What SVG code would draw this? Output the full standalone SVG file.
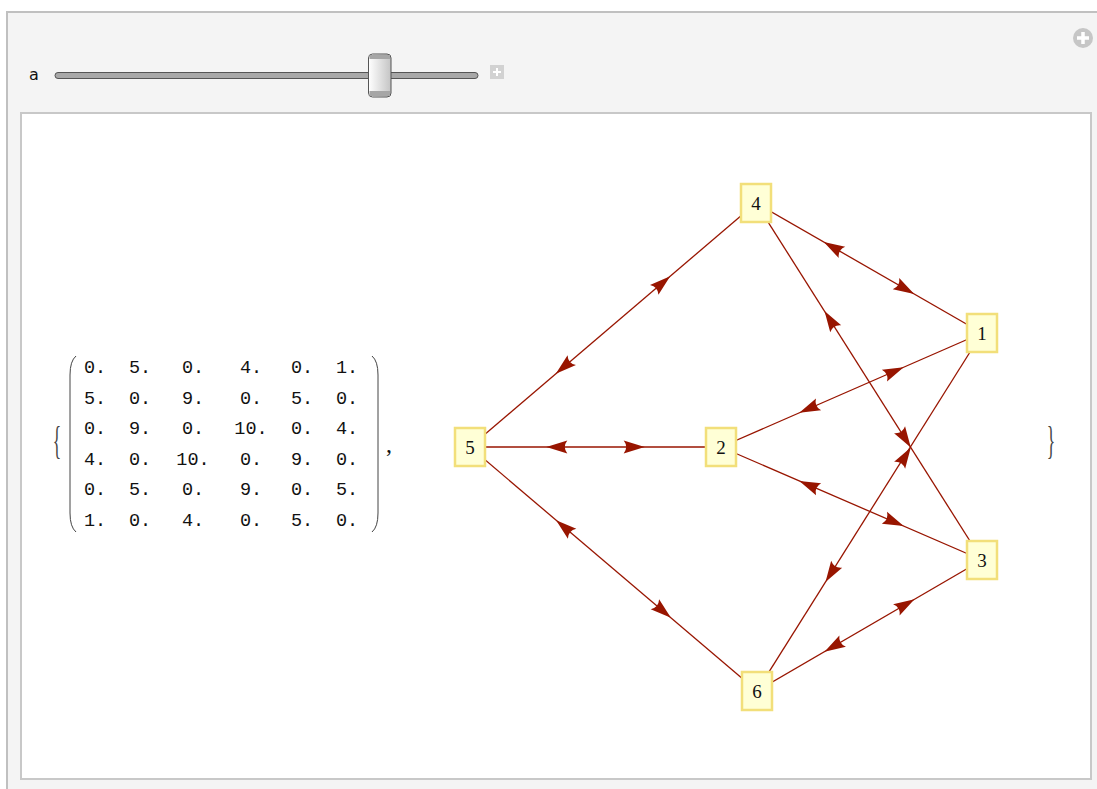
<svg xmlns="http://www.w3.org/2000/svg" width="1097" height="789" viewBox="0 0 1097 789">
<style>
.edge{stroke:#981500;stroke-width:1.3;fill:none}
.ah{fill:#981500}
.nb{fill:#ffffd6;stroke:#f2df7a;stroke-width:2.5}
.nl{font-family:"Liberation Serif",serif;font-size:19px;fill:#111;text-anchor:middle}
.mx{font-family:"Liberation Mono",monospace;font-size:18.5px;fill:#111;text-anchor:middle}
.dl{stroke:#444;stroke-width:1;fill:none}
</style>
<defs>
<path id="arr" d="M0,0 L-21,-6.5 Q-16,0 -21,6.5 Z"/>
<linearGradient id="thumb" x1="0" y1="0" x2="1" y2="0">
<stop offset="0" stop-color="#ffffff"/>
<stop offset="1" stop-color="#c4c4c4"/>
</linearGradient>
</defs>
<rect x="0" y="0" width="1097" height="789" fill="#ffffff"/>
<g id="panel">
<rect x="7" y="12" width="1100" height="800" fill="#f4f4f4" stroke="#c0c0c0" stroke-width="2"/>
<rect x="21" y="113" width="1070" height="666" fill="#ffffff" stroke="#c8c8c8" stroke-width="2"/>
<circle cx="1083" cy="38" r="10" fill="#c6c6c6"/>
<path d="M1083,32 V44 M1077,38 H1089" stroke="#ffffff" stroke-width="3.5"/>
</g>
<g id="slider">
<text x="29" y="80" font-family="DejaVu Sans, sans-serif" font-size="16" fill="#111">a</text>
<rect x="55" y="72.5" width="423" height="6" rx="3" fill="#a8a8a8" stroke="#555" stroke-width="1"/>
<rect x="368.5" y="54" width="22.5" height="43" rx="4" fill="url(#thumb)" stroke="#555" stroke-width="1"/>
<rect x="369.5" y="55" width="20.5" height="4" fill="#a6a6a6"/>
<rect x="369.5" y="91" width="20.5" height="5" fill="#a6a6a6"/>
<rect x="490" y="65" width="14" height="14" fill="#d2d2d2"/>
<path d="M497,68 V76 M493,72 H501" stroke="#ffffff" stroke-width="2"/>
</g>
<g id="matrix">
<text transform="scale(0.8,1.8)" x="71.25" y="252.2" font-family="Liberation Serif, serif" font-size="22" fill="#444" text-anchor="middle">{</text>
<path class="dl" d="M76,356 Q70,361 70,375 L70,513 Q70,527 76,532"/>
<path class="dl" d="M372,356 Q378,361 378,375 L378,513 Q378,527 372,532"/>
<text x="389" y="452" font-family="Liberation Serif, serif" font-size="24" fill="#111" text-anchor="middle">,</text>
<text transform="scale(0.8,1.8)" x="1313.75" y="252.2" font-family="Liberation Serif, serif" font-size="22" fill="#444" text-anchor="middle">}</text>
<g class="mx">
<text x="95" y="373">0.</text><text x="140" y="373">5.</text><text x="193" y="373">0.</text><text x="251" y="373">4.</text><text x="302" y="373">0.</text><text x="347" y="373">1.</text>
<text x="95" y="403.5">5.</text><text x="140" y="403.5">0.</text><text x="193" y="403.5">9.</text><text x="251" y="403.5">0.</text><text x="302" y="403.5">5.</text><text x="347" y="403.5">0.</text>
<text x="95" y="434">0.</text><text x="140" y="434">9.</text><text x="193" y="434">0.</text><text x="251" y="434">10.</text><text x="302" y="434">0.</text><text x="347" y="434">4.</text>
<text x="95" y="464.5">4.</text><text x="140" y="464.5">0.</text><text x="193" y="464.5">10.</text><text x="251" y="464.5">0.</text><text x="302" y="464.5">9.</text><text x="347" y="464.5">0.</text>
<text x="95" y="495">0.</text><text x="140" y="495">5.</text><text x="193" y="495">0.</text><text x="251" y="495">9.</text><text x="302" y="495">0.</text><text x="347" y="495">5.</text>
<text x="95" y="525.5">1.</text><text x="140" y="525.5">0.</text><text x="193" y="525.5">4.</text><text x="251" y="525.5">0.</text><text x="302" y="525.5">5.</text><text x="347" y="525.5">0.</text>
</g>
</g>
<g id="connectors">
<line class="edge" x1="470" y1="447" x2="756" y2="203"/>
<line class="edge" x1="756" y1="203" x2="982" y2="333"/>
<line class="edge" x1="470" y1="447" x2="721" y2="447"/>
<line class="edge" x1="721" y1="447" x2="982" y2="333"/>
<line class="edge" x1="721" y1="447" x2="982" y2="560"/>
<line class="edge" x1="470" y1="447" x2="757" y2="691"/>
<line class="edge" x1="757" y1="691" x2="982" y2="560"/>
<line class="edge" x1="756" y1="203" x2="982" y2="560"/>
<line class="edge" x1="757" y1="691" x2="982" y2="333"/>
<g class="ah">
<use href="#arr" transform="translate(555.8,373.8) rotate(139.53)"/>
<use href="#arr" transform="translate(670.2,276.2) rotate(-40.47)"/>
<use href="#arr" transform="translate(823.8,242) rotate(209.91)"/>
<use href="#arr" transform="translate(914.2,294) rotate(29.91)"/>
<use href="#arr" transform="translate(546.3,447) rotate(180)"/>
<use href="#arr" transform="translate(644.7,447) rotate(0)"/>
<use href="#arr" transform="translate(799.3,412.8) rotate(156.41)"/>
<use href="#arr" transform="translate(903.7,367.2) rotate(-23.59)"/>
<use href="#arr" transform="translate(799.3,480.9) rotate(203.41)"/>
<use href="#arr" transform="translate(903.7,526.1) rotate(23.41)"/>
<use href="#arr" transform="translate(556.1,520.2) rotate(220.37)"/>
<use href="#arr" transform="translate(670.9,617.8) rotate(40.37)"/>
<use href="#arr" transform="translate(824.5,651.7) rotate(149.79)"/>
<use href="#arr" transform="translate(914.5,599.3) rotate(-30.21)"/>
<use href="#arr" transform="translate(824.5,311) rotate(237.67)"/>
<use href="#arr" transform="translate(910.8,447.5) rotate(57.67)"/>
<use href="#arr" transform="translate(825.5,582) rotate(122.15)"/>
<use href="#arr" transform="translate(910.8,447.5) rotate(-57.85)"/>
</g>
</g>
<g id="node1"><rect class="nb" x="967" y="314" width="30" height="38"/><text class="nl" x="982" y="339.5">1</text></g>
<g id="node2"><rect class="nb" x="706" y="428" width="30" height="38"/><text class="nl" x="721" y="453.5">2</text></g>
<g id="node3"><rect class="nb" x="967" y="541" width="30" height="38"/><text class="nl" x="982" y="566.5">3</text></g>
<g id="node4"><rect class="nb" x="741" y="184" width="30" height="38"/><text class="nl" x="756" y="209.5">4</text></g>
<g id="node5"><rect class="nb" x="455" y="428" width="30" height="38"/><text class="nl" x="470" y="453.5">5</text></g>
<g id="node6"><rect class="nb" x="742" y="672" width="30" height="38"/><text class="nl" x="757" y="697.5">6</text></g>
</svg>
